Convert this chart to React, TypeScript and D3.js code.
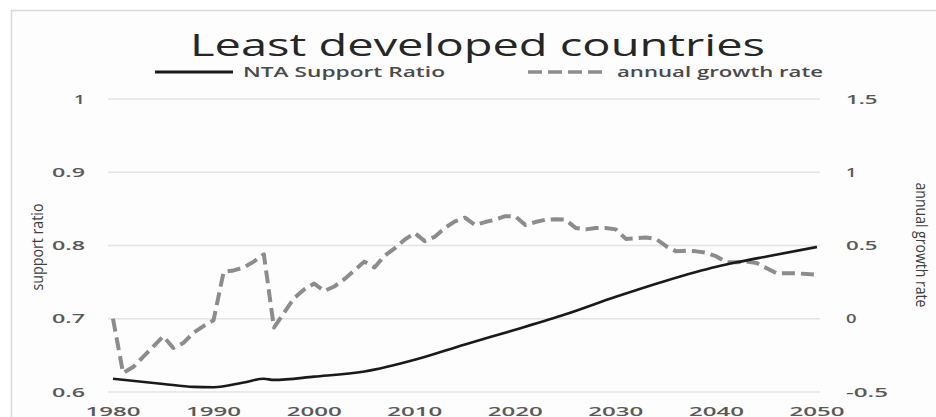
import React from "react";
import * as d3 from "d3";

const supportKeyYears = [1980, 1985, 1988, 1990, 1993, 1995, 1996, 2000, 2005, 2010, 2015, 2020, 2025, 2030, 2035, 2040, 2042, 2045, 2050];
const supportKeyValues = [0.618, 0.611, 0.607, 0.6065, 0.613, 0.618, 0.6165, 0.621, 0.628, 0.644, 0.665, 0.685, 0.706, 0.73, 0.752, 0.771, 0.777, 0.785, 0.798];

const growthYears = [1980, 1981, 1982, 1983, 1984, 1985, 1986, 1987, 1988, 1989, 1990, 1991, 1992, 1993, 1994, 1995, 1996, 1997, 1998, 1999, 2000, 2001, 2002, 2003, 2004, 2005, 2006, 2007, 2008, 2009, 2010, 2011, 2012, 2013, 2014, 2015, 2016, 2017, 2018, 2019, 2020, 2021, 2022, 2023, 2024, 2025, 2026, 2027, 2028, 2029, 2030, 2031, 2032, 2033, 2034, 2035, 2036, 2037, 2038, 2039, 2040, 2041, 2042, 2043, 2044, 2045, 2046, 2047, 2048, 2049, 2050];
const growthValues = [0.0, -0.37, -0.33, -0.26, -0.19, -0.12, -0.2, -0.165, -0.096, -0.05, -0.01, 0.32, 0.33, 0.35, 0.39, 0.44, -0.06, 0.04, 0.14, 0.2, 0.24, 0.19, 0.22, 0.27, 0.33, 0.39, 0.35, 0.43, 0.48, 0.54, 0.585, 0.53, 0.56, 0.62, 0.665, 0.69, 0.64, 0.66, 0.676, 0.7, 0.7, 0.64, 0.66, 0.676, 0.68, 0.676, 0.62, 0.61, 0.62, 0.62, 0.61, 0.545, 0.55, 0.555, 0.545, 0.495, 0.46, 0.465, 0.46, 0.45, 0.425, 0.385, 0.385, 0.39, 0.38, 0.345, 0.31, 0.31, 0.31, 0.305, 0.3];

const leftTicks = [0.6, 0.7, 0.8, 0.9, 1];
const leftTickLabels = ["0.6", "0.7", "0.8", "0.9", "1"];
const rightTicks = [-0.5, 0, 0.5, 1, 1.5];
const rightTickLabels = ["-0.5", "0", "0.5", "1", "1.5"];
const xTicks = [1980, 1990, 2000, 2010, 2020, 2030, 2040, 2050];
const xTickLabels = ["1980", "1990", "2000", "2010", "2020", "2030", "2040", "2050"];

const titleText = "Least developed countries";
const legendSolid = "NTA Support Ratio";
const legendDashed = "annual growth rate";
const leftTitle = "support ratio";
const rightTitle = "annual growth rate";

const FONT = "'Open Sans', 'DejaVu Sans', sans-serif";
const TEXT = "#595959";

export default function App() {
  const W = 936, H = 417;
  const x = d3.scaleLinear().domain([1980, 2050]).range([113, 817]);
  const yL = d3.scaleLinear().domain([0.6, 1]).range([392, 99]);
  const yR = d3.scaleLinear().domain([-0.5, 1.5]).range([392, 99]);

  const supportData = supportKeyYears.map((yr, i) => [yr, supportKeyValues[i]] as [number, number]);
  const solidLine = d3.line<[number, number]>()
    .x(d => x(d[0]))
    .y(d => yL(d[1]))
    .curve(d3.curveMonotoneX);
  const growthData = growthYears.map((yr, i) => [yr, growthValues[i]] as [number, number]);
  const dashLine = d3.line<[number, number]>()
    .x(d => x(d[0]))
    .y(d => yR(d[1]));

  return (
    <svg width={W} height={H} style={{ position: "absolute", left: 0, top: 0, background: "#fff" }}>
      <rect x={0} y={0} width={W} height={H} fill="#ffffff" />
      <rect x={11.5} y={10.5} width={W + 20} height={H + 20} fill="#fdfdfd" stroke="#d9d9d9" strokeWidth={1.5} />
      {leftTicks.map(t => (
        <line key={"g" + t} x1={108} x2={820} y1={yL(t)} y2={yL(t)} stroke="#e3e3e3" strokeWidth={1.3} />
      ))}
      <text x={190} y={56} fontFamily={FONT} fontSize={31} fill="#262626" textLength={575} lengthAdjust="spacingAndGlyphs">{titleText}</text>
      <line x1={155} x2={233} y1={72} y2={72} stroke="#1a1a1a" strokeWidth={2.8} />
      <text x={243} y={77} fontFamily={FONT} fontSize={14.5} fontWeight={600} fill="#4a4a4a" textLength={202} lengthAdjust="spacingAndGlyphs">{legendSolid}</text>
      <line x1={528} x2={608} y1={72} y2={72} stroke="#8c8c8c" strokeWidth={3.5} strokeDasharray="14,6" />
      <text x={617} y={77} fontFamily={FONT} fontSize={14.5} fontWeight={600} fill="#4a4a4a" textLength={206} lengthAdjust="spacingAndGlyphs">{legendDashed}</text>
      {leftTicks.map((t, i) => (
        <text key={"l" + t} x={85} y={yL(t) + 4.5} textAnchor="end" fontFamily={FONT} fontSize={13} fontWeight={600} fill={TEXT}
          textLength={leftTickLabels[i].length > 1 ? 33 : 11} lengthAdjust="spacingAndGlyphs">{leftTickLabels[i]}</text>
      ))}
      {rightTicks.map((t, i) => (
        <text key={"r" + t} x={846} y={yR(t) + 4.5} fontFamily={FONT} fontSize={13} fontWeight={600} fill={TEXT}
          textLength={rightTickLabels[i].length * 10.5} lengthAdjust="spacingAndGlyphs">{rightTickLabels[i]}</text>
      ))}
      {xTicks.map((t, i) => (
        <text key={"x" + t} x={x(t)} y={416} textAnchor="middle" fontFamily={FONT} fontSize={13} fontWeight={600} fill={TEXT}
          textLength={55} lengthAdjust="spacingAndGlyphs">{xTickLabels[i]}</text>
      ))}
      <text transform={`translate(43,247) rotate(-90)`} textAnchor="middle" fontFamily={FONT} fontSize={17} fill="#404040"
        textLength={87} lengthAdjust="spacingAndGlyphs">{leftTitle}</text>
      <text transform={`translate(916,245) rotate(90)`} textAnchor="middle" fontFamily={FONT} fontSize={17} fill="#404040"
        textLength={125} lengthAdjust="spacingAndGlyphs">{rightTitle}</text>
      <path d={dashLine(growthData) || ""} fill="none" stroke="#8c8c8c" strokeWidth={4} strokeDasharray="13,6" strokeLinejoin="round" />
      <path d={solidLine(supportData) || ""} fill="none" stroke="#1a1a1a" strokeWidth={2.6} strokeLinejoin="round" />
    </svg>
  );
}
